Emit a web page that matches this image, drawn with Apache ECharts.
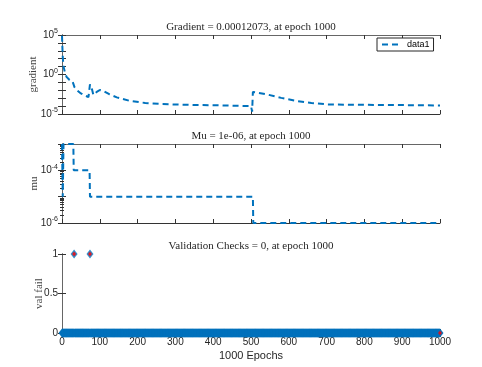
<!DOCTYPE html>
<html>
<head>
<meta charset="utf-8" />
<title>Training state</title>
<script src="https://cdn.jsdelivr.net/npm/echarts@6/dist/echarts.min.js"></script>
<style>
    * { margin:0; padding:0; }
    body { background:#fff; }
    #main { width:482px; height:367px; }
</style>
</head>
<body>
<div id="main"></div>
<script>
// gradient (log scale)
var gradEpochs = [0, 1, 2, 4, 8, 12, 20, 28, 33, 40, 50, 60, 70, 73, 74, 78, 83, 86, 92, 100, 110, 125, 145, 180, 220, 260, 300, 350, 400, 450, 500, 503, 505, 540, 580, 620, 660, 700, 750, 800, 850, 900, 950, 1000];
var gradValues = [8e4, 3.2e3, 1.6e2, 10, 1.6, 0.5, 0.2, 0.13, 0.025, 0.01, 4e-3, 2.2e-3, 1.4e-3, 1.26e-3, 0.056, 0.025, 2.5e-3, 1.4e-3, 6.3e-3, 0.011, 8e-3, 3.2e-3, 1.26e-3, 4.5e-4, 2.5e-4, 1.9e-4, 1.6e-4, 1.4e-4, 1.3e-4, 1.12e-4, 1e-4, 2e-5, 6.3e-3, 3.2e-3, 1.1e-3, 4.5e-4, 2.5e-4, 1.66e-4, 1.5e-4, 1.45e-4, 1.4e-4, 1.35e-4, 1.26e-4, 1.2073e-4];
// mu (log scale)
var muEpochs = [0, 1, 2, 3, 4, 30, 31, 73, 74, 505, 506, 1000];
var muValues = [1e-3, 1e-4, 1e-5, 1e-4, 1e-3, 1e-3, 1e-4, 1e-4, 1e-5, 1e-5, 1e-6, 1e-6];
// validation checks: 1 at these epochs, 0 everywhere else
var failEpochs = [32, 74];
var lastEpoch = 1000;
var titles = ['Gradient = 0.00012073, at epoch 1000', 'Mu = 1e-06, at epoch 1000', 'Validation Checks = 0, at epoch 1000'];

var blue = '#0072BD';
var gridTops = [35, 144, 254];

function pairs(xs, ys) {
    return xs.map(function (x, i) { return [x, ys[i]]; });
}
var valFail = [];
for (var e = 0; e <= lastEpoch; e++) {
    valFail.push([e, failEpochs.indexOf(e) >= 0 ? 1 : 0]);
}
var failMarks = failEpochs.map(function (e) { return [e, 1]; });

var supRich = {
    b: { fontSize: 10, fontFamily: 'Liberation Sans', color: '#262626' },
    s: { fontSize: 7, fontFamily: 'Liberation Sans', color: '#262626', padding: [0, 0, 7, 0] }
};
function powLabel(show) {
    return function (v) {
        var p = Math.round(Math.log10(v));
        return show.indexOf(p) >= 0 ? '{b|10}{s|' + p + '}' : '';
    };
}

var xAxes = [], yAxes = [];
gridTops.forEach(function (t, i) {
    ['bottom', 'top'].forEach(function (pos) {
        xAxes.push({
            gridIndex: i, type: 'value', position: pos, min: 0, max: 1000, interval: 100,
            axisLine: { lineStyle: { color: pos == 'bottom' ? '#333' : '#666', width: 1 } },
            axisTick: { inside: true, length: 4, lineStyle: { color: '#333' } },
            axisLabel: {
                show: i == 2 && pos == 'bottom', margin: 4, fontSize: 10, fontFamily: 'Liberation Sans', color: '#262626',
                formatter: function (v) { return String(v); }
            },
            splitLine: { show: false },
            name: (i == 2 && pos == 'bottom') ? '1000 Epochs' : '',
            nameLocation: 'middle', nameGap: 17,
            nameTextStyle: { fontSize: 11, fontFamily: 'Liberation Sans', color: '#262626' }
        });
    });
});
var yNames = ['gradient', 'mu', 'val fail'];
var yGaps = [23, 22.5, 17.5];
gridTops.forEach(function (t, i) {
    ['left', 'right'].forEach(function (pos) {
        var ax = {
            gridIndex: i, position: pos,
            axisLine: { show: true, lineStyle: { color: pos == 'left' ? '#222' : '#666', width: 1 } },
            axisTick: { show: true, inside: true, length: 4, lineStyle: { color: '#333' } },
            axisLabel: { show: pos == 'left', margin: 4, fontSize: 10, fontFamily: 'Liberation Sans', color: '#262626' },
            splitLine: { show: false },
            name: pos == 'left' ? yNames[i] : '',
            nameLocation: 'middle', nameGap: yGaps[i], nameMoveOverlap: false,
            nameTextStyle: { fontSize: 11, fontFamily: 'Liberation Serif', color: '#444' }
        };
        if (i == 0) {
            ax.type = 'log'; ax.min = 1e-5; ax.max = 1e5; ax.interval = 1;
            ax.axisLabel.formatter = powLabel([5, 0, -5]);
            ax.axisLabel.rich = supRich;
        } else if (i == 1) {
            ax.type = 'log'; ax.min = 1e-6; ax.max = 1e-3; ax.interval = 1;
            ax.axisLabel.formatter = powLabel([-4, -6]);
            ax.axisLabel.rich = supRich;
            ax.minorTick = { show: true, splitNumber: 9, length: 2, lineStyle: { color: '#333' } };
        } else {
            ax.type = 'value'; ax.min = 0; ax.max = 1; ax.interval = 0.5;
        }
        yAxes.push(ax);
    });
});

var option = {
    animation: false,
    backgroundColor: '#fff',
    title: titles.map(function (txt, i) {
        return {
            text: txt, left: 251, top: gridTops[i] - 13, textAlign: 'center', padding: 0,
            textStyle: { fontSize: 11, fontWeight: 'normal', fontFamily: 'Liberation Serif', color: '#262626' }
        };
    }),
    grid: gridTops.map(function (t) {
        return { left: 62, width: 378, top: t, height: 79, containLabel: false };
    }),
    legend: {
        data: ['data1'], left: 377, top: 38, padding: [2, 4], itemWidth: 20, itemHeight: 8, itemGap: 4,
        borderColor: '#262626', borderWidth: 1, backgroundColor: '#fff',
        itemStyle: { opacity: 0 },
        textStyle: { fontSize: 9, fontFamily: 'Liberation Sans', color: '#000' }
    },
    xAxis: xAxes,
    yAxis: yAxes,
    series: [
        {
            name: 'data1', type: 'line', xAxisIndex: 0, yAxisIndex: 0,
            data: pairs(gradEpochs, gradValues), showSymbol: false, symbol: 'none',
            lineStyle: { color: blue, width: 2, type: [6, 4] }, itemStyle: { color: blue }
        },
        {
            name: 'mu', type: 'line', xAxisIndex: 2, yAxisIndex: 2,
            data: pairs(muEpochs, muValues), showSymbol: false, symbol: 'none',
            lineStyle: { color: blue, width: 2, type: [6, 4] }
        },
        {
            name: 'val fail', type: 'scatter', xAxisIndex: 4, yAxisIndex: 4,
            data: valFail, symbol: 'diamond', symbolSize: [7, 9],
            itemStyle: { color: blue }
        },
        {
            name: 'fails', type: 'scatter', xAxisIndex: 4, yAxisIndex: 4,
            data: failMarks.concat([[lastEpoch, 0]]), symbol: 'diamond', symbolSize: [4, 5],
            itemStyle: { color: '#ff0000' }
        }
    ]
};

var myChart = echarts.init(document.getElementById('main'));
myChart.setOption(option);
</script>
</body>
</html>
